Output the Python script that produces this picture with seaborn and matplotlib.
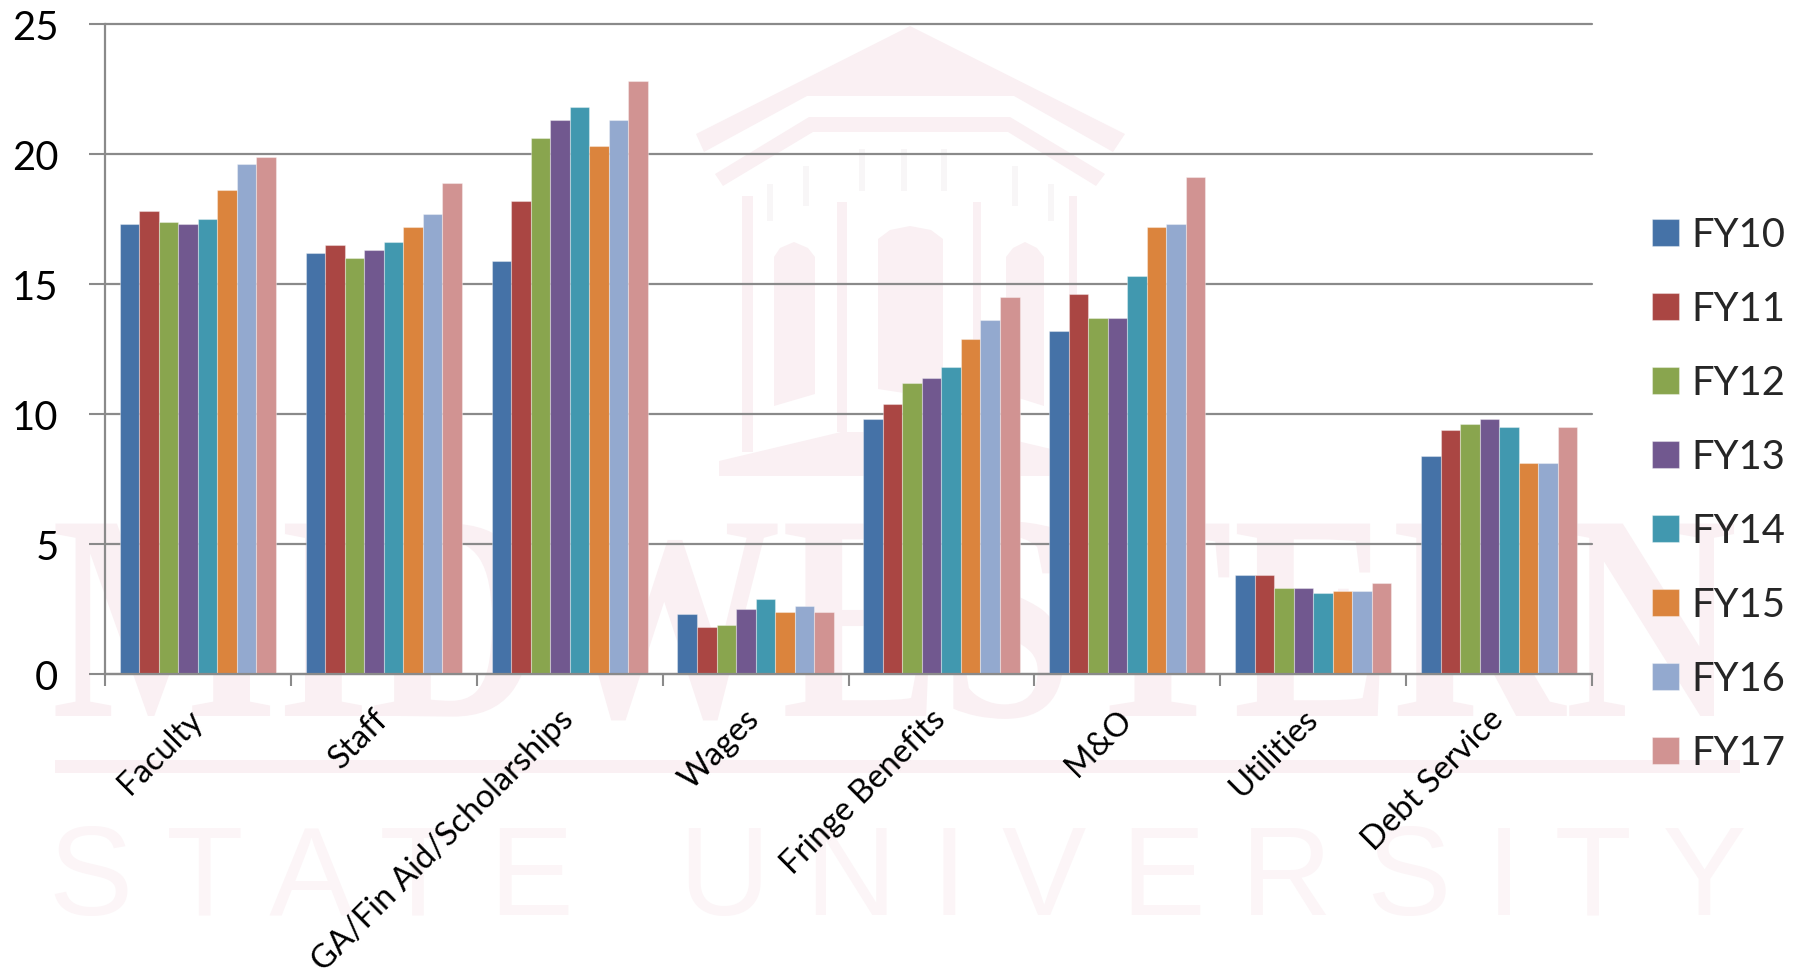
import matplotlib
matplotlib.use("Agg")
import matplotlib.pyplot as plt
from matplotlib.patches import Polygon
from matplotlib.patheffects import AbstractPathEffect
from matplotlib.transforms import Affine2D, ScaledTranslation
import pandas as pd
import seaborn as sns

categories = ["Faculty", "Staff", "GA/Fin Aid/Scholarships", "Wages",
              "Fringe Benefits", "M&O", "Utilities", "Debt Service"]
years = ["FY10", "FY11", "FY12", "FY13", "FY14", "FY15", "FY16", "FY17"]

fy10 = [17.3, 16.2, 15.9, 2.3, 9.8, 13.2, 3.8, 8.4]
fy11 = [17.8, 16.5, 18.2, 1.8, 10.4, 14.6, 3.8, 9.4]
fy12 = [17.4, 16.0, 20.6, 1.9, 11.2, 13.7, 3.3, 9.6]
fy13 = [17.3, 16.3, 21.3, 2.5, 11.4, 13.7, 3.3, 9.8]
fy14 = [17.5, 16.6, 21.8, 2.9, 11.8, 15.3, 3.1, 9.5]
fy15 = [18.6, 17.2, 20.3, 2.4, 12.9, 17.2, 3.2, 8.1]
fy16 = [19.6, 17.7, 21.3, 2.6, 13.6, 17.3, 3.2, 8.1]
fy17 = [19.9, 18.9, 22.8, 2.4, 14.5, 19.1, 3.5, 9.5]

colors = ["#4572A7", "#AA4643", "#89A54E", "#71588F",
          "#4198AF", "#DB843D", "#93A9CF", "#D19392"]

GREY = "#8a8a8a"
PINK = "#faf0f3"
PALE = "#fcf5f7"

W, H = 1803, 979


class StretchY(AbstractPathEffect):
    """Makes text taller about a baseline given in pixels from the bottom."""

    def __init__(self, base, factor):
        super().__init__()
        self.stretch = Affine2D().translate(0, -base).scale(1, factor).translate(0, base)

    def draw_path(self, renderer, gc, tpath, affine, rgbFace=None):
        renderer.draw_path(gc, tpath, affine + self.stretch, rgbFace)


df = pd.DataFrame({"category": categories, "FY10": fy10, "FY11": fy11, "FY12": fy12,
                   "FY13": fy13, "FY14": fy14, "FY15": fy15, "FY16": fy16, "FY17": fy17})
df = df.melt(id_vars="category", var_name="year", value_name="value")

sns.set_style("white")
plt.rcParams["font.family"] = ["Lato", "DejaVu Sans"]

fig = plt.figure(figsize=(W / 100, H / 100), dpi=100)
ax = fig.add_axes([105 / W, 1 - 675 / H, (1592 - 105) / W, 650 / H])
ax.patch.set_alpha(0)

# watermark behind the chart, given in image pixels
px = Affine2D().scale(1 / W, -1 / H).translate(0, 1) + fig.transFigure
shapes = [
    [(910, 27), (1125, 135), (1113, 153), (1014, 97), (807, 97), (704, 153), (696, 135)],
    [(715, 175), (809, 118), (1010, 118), (1105, 175), (1096, 187), (1008, 133), (813, 133), (723, 187)],
    [(719, 462), (841, 433), (979, 433), (1102, 462), (1102, 477), (719, 477)],
    [(742, 197), (753, 197), (753, 453), (742, 453)],
    [(837, 203), (847, 203), (847, 433), (837, 433)],
    [(973, 203), (981, 203), (981, 433), (973, 433)],
    [(1069, 197), (1077, 197), (1077, 453), (1069, 453)],
    [(774, 258), (780, 249), (794, 243), (808, 249), (815, 258), (815, 395), (774, 407)],
    [(878, 240), (890, 231), (910, 227), (931, 231), (943, 240), (943, 400), (878, 390)],
    [(1006, 258), (1013, 249), (1025, 243), (1037, 249), (1044, 258), (1044, 407), (1006, 395)],
    [(55, 761), (1740, 761), (1740, 774), (55, 774)],
]
for pts in shapes:
    fig.add_artist(Polygon(pts, closed=True, transform=px, facecolor=PINK,
                           edgecolor="none", zorder=-2))
arches = [(767, 185, 222), (803, 167, 207), (859, 150, 192), (901, 150, 192),
          (941, 150, 192), (1012, 167, 207), (1048, 185, 222)]
for x0, top, bottom in arches:
    fig.add_artist(Polygon([(x0, top), (x0 + 6, top), (x0 + 6, bottom), (x0, bottom)],
                           closed=True, transform=px, facecolor="#f8f6f7",
                           edgecolor="none", zorder=-2))
fig.text(894 / W, 1 - 717 / H, "MIDWESTERN", family="Liberation Serif", weight="bold",
         fontsize=172, color=PINK, ha="center", va="baseline", zorder=-2,
         path_effects=[StretchY(H - 717, 1.23)])
fig.text(898 / W, 1 - 915 / H, "S T A T E   U N I V E R S I T Y", family="Liberation Sans",
         fontsize=91, color=PALE, ha="center", va="baseline", zorder=-2)

sns.barplot(data=df, x="category", y="value", hue="year", order=categories, hue_order=years,
            palette=colors, saturation=1, width=0.84, gap=0, errorbar=None,
            edgecolor=(1, 1, 1, 0.35), linewidth=0.8, ax=ax, zorder=3)

ax.set_xlim(-0.5, 7.5)
ax.set_ylim(0, 25)
ax.set_xlabel("")
ax.set_ylabel("")

ax.set_yticks([0, 5, 10, 15, 20, 25])
ax.tick_params(axis="y", left=True, length=11.5, width=1.5, color=GREY, labelsize=28.8,
               pad=22, labelcolor="black")
ax.yaxis.grid(True, color=GREY, linewidth=1.6, zorder=1)
ax.set_axisbelow(True)
for line in ax.get_ygridlines():
    line.set_clip_on(False)

# category ticks sit between the groups, the labels under the groups
ax.set_xticks([i - 0.5 for i in range(9)], minor=True)
ax.tick_params(axis="x", which="minor", bottom=True, length=8.5, width=1.5, color=GREY)
ax.tick_params(axis="x", which="major", bottom=False, length=0, pad=21)
ax.set_xticks(range(8))
ax.set_xticklabels(categories, rotation=45, ha="right", va="top", rotation_mode="anchor",
                   fontsize=23.6, color="black")
nudge = ScaledTranslation(-8 / 72, 0, fig.dpi_scale_trans)
for label in ax.get_xticklabels():
    label.set_transform(label.get_transform() + nudge)

for side in ["top", "right"]:
    ax.spines[side].set_visible(False)
for side in ["left", "bottom"]:
    ax.spines[side].set_color(GREY)
    ax.spines[side].set_linewidth(1.6)
    ax.spines[side].set_zorder(5)

handles, labels = ax.get_legend_handles_labels()
ax.legend(handles, labels, loc="center left", bbox_to_anchor=(1652 / W, 1 - 495 / H),
          bbox_transform=fig.transFigure, frameon=False, fontsize=28.8, borderpad=0,
          borderaxespad=0, handlelength=0.675, handleheight=0.675, handletextpad=0.3,
          labelspacing=0.925)

fig.savefig("out.png", dpi=100)
